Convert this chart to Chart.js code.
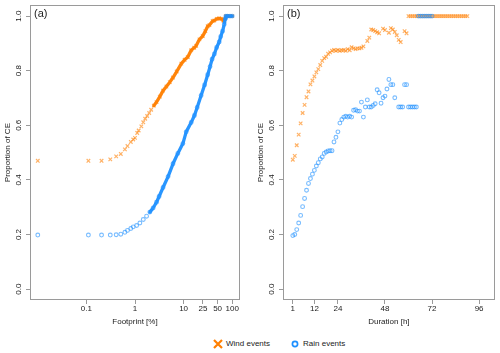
<!DOCTYPE html>
<html><head><meta charset="utf-8">
<script src="https://cdn.jsdelivr.net/npm/chart.js@4.4.1/dist/chart.umd.min.js"></script>
<style>
html,body{margin:0;padding:0;background:#fff;width:500px;height:353px;overflow:hidden;font-family:"Liberation Sans",Arial,sans-serif;}
canvas{position:absolute;top:0;}
#c1{left:0;}
#c2{left:250px;}
.lg{position:absolute;top:339px;height:10px;line-height:10px;font-size:8px;color:#222;white-space:nowrap;}
.lg svg{position:absolute;left:0;top:0;}
</style></head>
<body>
<canvas id="c1" width="250" height="330"></canvas>
<canvas id="c2" width="250" height="330"></canvas>
<div class="lg" style="left:213px;width:70px;"><svg width="10" height="10" viewBox="0 0 10 10"><path d="M1 1 L9 9 M9 1 L1 9" stroke="#FF7F00" stroke-width="2.2" fill="none"/></svg><span style="position:absolute;left:13px;top:0;">Wind events</span></div>
<div class="lg" style="left:290px;width:70px;"><svg width="10" height="10" viewBox="0 0 10 10"><circle cx="5" cy="5" r="2.6" stroke="#1E90FF" stroke-width="1.7" fill="none"/></svg><span style="position:absolute;left:13px;top:0;">Rain events</span></div>
<script>
// ---------- data ----------
const yTicks = [0, 0.2, 0.4, 0.6, 0.8, 1.0];
const yTickLabels = ["0.0", "0.2", "0.4", "0.6", "0.8", "1.0"];

const footTicks = [0.1, 1, 10, 25, 50, 100];
const footTickLabels = ["0.1", "1", "10", "25", "50", "100"];
const durTicks = [1, 12, 24, 48, 72, 96];
const durTickLabels = ["1", "12", "24", "48", "72", "96"];

// panel (a): footprint [%]
const windFootprint = [0.01,0.11,0.205,0.31,0.41,0.51,0.62,0.70,0.82,0.92,1.0,1.11,1.19,1.35,1.48,1.62,1.78,1.96,2.15,2.44,2.77,3.24,3.78,4.43,5.2,6.05,7.2,8.97,10.5,12.2,14.3,16.5,18.1,21.2,24.8,28,31.3,33.9,39.7,42.9,48,53.9,60,65.5,68.5,74,80,90,100];
const windFootprintCE = [0.470,0.470,0.470,0.475,0.486,0.495,0.512,0.524,0.539,0.548,0.554,0.572,0.581,0.596,0.611,0.624,0.634,0.645,0.657,0.672,0.685,0.705,0.727,0.742,0.758,0.775,0.797,0.826,0.840,0.850,0.875,0.884,0.891,0.915,0.927,0.945,0.963,0.967,0.982,0.984,0.990,0.992,0.990,0.984,0.982,1.0,1.0,1.0,1.0];
const rainFootprint = [0.01,0.11,0.205,0.31,0.41,0.51,0.62,0.70,0.82,0.92,1.08,1.26,1.48,1.73,2.02,2.36,2.77,3.13,3.78,4.79,6.05,7.6,9.66,11.3,14.3,16.7,19,22.9,27,31.3,35,38.5,42.9,47.8,53.9,58,63.3,68.5,71.9,74,80,90,100];
const rainFootprintCE = [0.198,0.198,0.198,0.198,0.199,0.201,0.208,0.215,0.222,0.228,0.233,0.242,0.255,0.267,0.282,0.297,0.318,0.339,0.372,0.412,0.459,0.497,0.533,0.576,0.610,0.636,0.665,0.709,0.748,0.785,0.815,0.842,0.861,0.885,0.905,0.925,0.945,0.970,0.990,1.0,1.0,1.0,1.0];
const windBandFrom = 2.4;   // footprint above which the points merge into a solid band
const rainBandFrom = 2.0;

// panel (b): duration [h]
const windDuration = [1,2,3,4,5,6,7,8,9,10,11,12,13,14,15,16,17,18,19,20,21,22,23,24,25,26,27,28,29,30,31,32,33,34,35,36,37,39,40,41,42,43,44,45,47,48,50,51,52,53,54,55,56,58,59,60,61,62,63,64,65,66,67,68,69,70,71,72,73,74,75,76,77,78,79,80,81,82,83,84,85,86,87,88,89,90];
const windDurationCE = [0.474,0.488,0.527,0.566,0.607,0.645,0.675,0.703,0.724,0.750,0.764,0.779,0.794,0.806,0.821,0.836,0.846,0.851,0.862,0.867,0.873,0.876,0.873,0.876,0.873,0.875,0.876,0.873,0.879,0.875,0.886,0.882,0.879,0.882,0.882,0.884,0.889,0.909,0.921,0.951,0.949,0.945,0.941,0.937,0.954,0.949,0.939,0.956,0.951,0.942,0.930,0.913,0.905,0.945,0.937,1.0,1.0,1.0,1.0,1.0,1.0,1.0,1.0,1.0,1.0,1.0,1.0,1.0,1.0,1.0,1.0,1.0,1.0,1.0,1.0,1.0,1.0,1.0,1.0,1.0,1.0,1.0,1.0,1.0,1.0,1.0];
const rainDuration = [1,2,3,4,5,6,7,8,9,10,11,12,13,14,15,16,17,18,19,20,21,22,23,24,25,26,27,28,29,30,31,32,33,34,35,36,37,38,39,40,41,42,43,44,45,46,47,48,49,50,51,52,53,55,56,57,58,59,60,61,62,63,64,65,66,67,68,69,70,71,72];
const rainDurationCE = [0.196,0.200,0.218,0.242,0.270,0.302,0.332,0.362,0.387,0.405,0.421,0.435,0.451,0.463,0.477,0.484,0.497,0.502,0.506,0.507,0.507,0.539,0.556,0.576,0.608,0.621,0.630,0.633,0.630,0.633,0.630,0.655,0.657,0.652,0.652,0.685,0.630,0.667,0.693,0.667,0.667,0.673,0.679,0.730,0.719,0.681,0.701,0.707,0.733,0.768,0.749,0.749,0.701,0.667,0.667,0.667,0.749,0.749,0.667,0.667,0.667,0.667,0.667,1.0,1.0,1.0,1.0,1.0,1.0,1.0,1.0];

// ---------- helpers ----------
const ORANGE = 'rgba(255,127,0,0.6)';
const ORANGE_SOLID = 'rgba(255,127,0,0.95)';
const BLUE = 'rgba(30,144,255,0.6)';
const BLUE_SOLID = 'rgba(30,144,255,0.95)';
const FONT = '"Liberation Sans", Arial, sans-serif';
const TXT = '#222';
const BOX = '#9a9a9a';

function pts(xs, ys) { return xs.map((x, i) => ({x: x, y: ys[i]})); }

function windPoints(data) {
  return {data, pointStyle: 'crossRot', pointRadius: 2.5, borderColor: ORANGE, backgroundColor: ORANGE, pointBorderWidth: 1.2, showLine: false};
}
function rainPoints(data) {
  return {data, pointStyle: 'circle', pointRadius: 1.9, borderColor: BLUE, backgroundColor: 'rgba(0,0,0,0)', pointBorderWidth: 1.1, showLine: false};
}
function band(data, color) {
  return {data, showLine: true, pointRadius: 0, borderColor: color, borderWidth: 3.3, borderJoinStyle: 'round', borderCapStyle: 'round', tension: 0};
}

const decor = {
  id: 'decor',
  afterDraw(chart, args, opts) {
    const {ctx, chartArea: a, scales} = chart;
    ctx.save();
    ctx.strokeStyle = BOX; ctx.lineWidth = 1;
    ctx.strokeRect(Math.round(a.left) + 0.5, Math.round(a.top) + 0.5, Math.round(a.right - a.left) - 1, Math.round(a.bottom - a.top) - 1);
    ctx.fillStyle = TXT;
    ctx.font = '8px ' + FONT;
    ctx.textAlign = 'center'; ctx.textBaseline = 'middle';
    yTicks.forEach((v, i) => {
      const y = scales.y.getPixelForValue(v);
      ctx.save(); ctx.translate(a.left - 11, y); ctx.rotate(-Math.PI / 2);
      ctx.fillText(yTickLabels[i], 0, 0); ctx.restore();
    });
    ctx.fillText(opts.xTitle, (a.left + a.right) / 2, 322);
    ctx.save(); ctx.translate(a.left - 22, (a.top + a.bottom) / 2); ctx.rotate(-Math.PI / 2);
    ctx.fillText(opts.yTitle, 0, 0); ctx.restore();
    ctx.font = '11px ' + FONT; ctx.textAlign = 'left';
    ctx.fillText(opts.panel, a.left + 4, a.top + 9);
    ctx.restore();
  }
};

function yScale(width) {
  return {
    type: 'linear', min: -0.04, max: 1.04,
    afterBuildTicks: s => { s.ticks = yTicks.map(v => ({value: v})); },
    ticks: {display: false},
    grid: {display: true, drawOnChartArea: false, drawTicks: true, tickLength: 4, color: BOX},
    border: {display: false},
    afterFit: s => { s.width = width; }
  };
}
function xTickOpts(labels) {
  return {font: {size: 8, family: FONT}, color: TXT, padding: 0, autoSkip: false, maxRotation: 0, minRotation: 0,
          callback: (v, i) => labels[i]};
}
const xGrid = {display: true, drawOnChartArea: false, drawTicks: true, tickLength: 4, color: BOX};

Chart.defaults.animation = false;

new Chart(document.getElementById('c1'), {
  type: 'scatter',
  data: {datasets: [
    rainPoints(pts(rainFootprint, rainFootprintCE)),
    band(pts(rainFootprint, rainFootprintCE).filter(p => p.x >= rainBandFrom), BLUE_SOLID),
    windPoints(pts(windFootprint, windFootprintCE)),
    band(pts(windFootprint, windFootprintCE).filter(p => p.x >= windBandFrom), ORANGE_SOLID)
  ]},
  options: {
    responsive: false, devicePixelRatio: 1,
    layout: {padding: {left: 0, right: 10, top: 4, bottom: 0}},
    plugins: {legend: {display: false}, tooltip: {enabled: false},
      decor: {xTitle: 'Footprint [%]', yTitle: 'Proportion of CE', panel: '(a)'}},
    scales: {
      x: {type: 'logarithmic', min: Math.pow(10, -2.16), max: Math.pow(10, 2.16),
          afterBuildTicks: s => { s.ticks = footTicks.map(v => ({value: v})); },
          ticks: xTickOpts(footTickLabels), grid: xGrid, border: {display: false},
          afterFit: s => { s.height = 30; }},
      y: yScale(30)
    }
  },
  plugins: [decor]
});

new Chart(document.getElementById('c2'), {
  type: 'scatter',
  data: {datasets: [
    rainPoints(pts(rainDuration, rainDurationCE)),
    windPoints(pts(windDuration, windDurationCE))
  ]},
  options: {
    responsive: false, devicePixelRatio: 1,
    layout: {padding: {left: 0, right: 5, top: 4, bottom: 0}},
    plugins: {legend: {display: false}, tooltip: {enabled: false},
      decor: {xTitle: 'Duration [h]', yTitle: 'Proportion of CE', panel: '(b)'}},
    scales: {
      x: {type: 'linear', min: -4, max: 104,
          afterBuildTicks: s => { s.ticks = durTicks.map(v => ({value: v})); },
          ticks: xTickOpts(durTickLabels), grid: xGrid, border: {display: false},
          afterFit: s => { s.height = 30; }},
      y: yScale(33)
    }
  },
  plugins: [decor]
});
</script>
</body></html>
